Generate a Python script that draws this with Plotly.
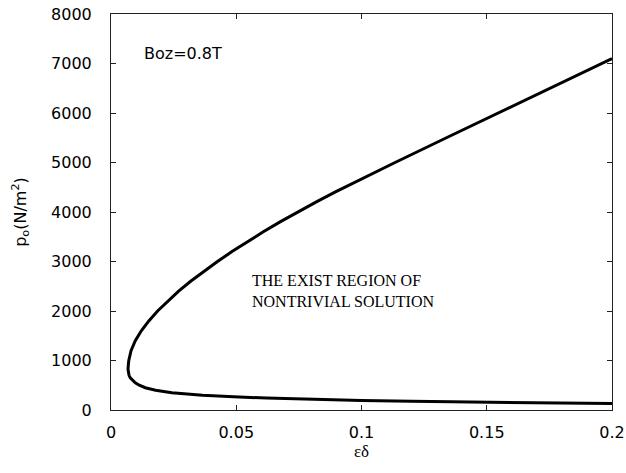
import plotly.graph_objects as go

# Lower branch (from right end to the turning point)
lower_x = [0.2, 0.175, 0.15, 0.12, 0.1, 0.08, 0.062, 0.049, 0.0365, 0.0243, 0.0178, 0.0137, 0.0113, 0.0097, 0.0085, 0.0077, 0.0072, 0.0069, 0.0068]
lower_y = [130, 140, 155, 175, 190, 210, 240, 270, 300, 350, 400, 450, 500, 550, 600, 650, 700, 760, 820]
# Upper branch (from the turning point to the right end)
upper_x = [0.0069, 0.0071, 0.0080, 0.0097, 0.0121, 0.0151, 0.0186, 0.0226, 0.0270, 0.0318, 0.0370, 0.0425, 0.0483,
           0.0544, 0.0608, 0.0675, 0.0745, 0.0818, 0.0894, 0.0972, 0.1052, 0.1134, 0.1339, 0.1544, 0.1749, 0.2]
upper_y = [900, 1000, 1200, 1400, 1600, 1800, 2000, 2200, 2400, 2600, 2800, 3000, 3200,
           3400, 3600, 3800, 4000, 4200, 4400, 4600, 4800, 5000, 5500, 6000, 6500, 7100]

x_ticks = [0, 0.05, 0.1, 0.15, 0.2]
x_tick_labels = ["0", "0.05", "0.1", "0.15", "0.2"]
y_ticks = [0, 1000, 2000, 3000, 4000, 5000, 6000, 7000, 8000]
y_tick_labels = [str(v) for v in y_ticks]

xs = lower_x + upper_x
ys = lower_y + upper_y

fig = go.Figure()
fig.add_trace(go.Scatter(x=xs, y=ys, mode="lines",
                         line=dict(color="black", width=3),
                         showlegend=False, hoverinfo="skip"))

axis_common = dict(showline=True, linecolor="#222", linewidth=1, mirror="ticks",
                   ticks="inside", ticklen=5, tickcolor="#222", tickwidth=1,
                   showgrid=False, zeroline=False, automargin=False,
                   tickfont=dict(family="DejaVu Sans", size=16, color="black"))

fig.update_xaxes(range=[0, 0.2], tickvals=x_ticks, ticktext=x_tick_labels, ticklabelstandoff=8,
                 title=dict(text="εδ", font=dict(family="Liberation Serif", size=17, color="black"), standoff=2),
                 **axis_common)
fig.update_yaxes(range=[0, 8000], tickvals=y_ticks, ticktext=y_tick_labels, ticklabelstandoff=15,
                 title=dict(text="p<sub>o</sub>(N/m<sup>2</sup>)", font=dict(family="DejaVu Sans", size=16, color="black"), standoff=20),
                 **axis_common)

fig.add_annotation(x=0.0124, y=7212, xref="x", yref="y", text="Boz=0.8T", showarrow=False,
                   xanchor="left", yanchor="middle",
                   font=dict(family="DejaVu Sans", size=16, color="black"))
fig.add_annotation(x=0.0556, y=2400, xref="x", yref="y",
                   text="THE EXIST REGION OF<br>NONTRIVIAL SOLUTION", showarrow=False,
                   xanchor="left", yanchor="middle", align="left",
                   font=dict(family="Liberation Serif", size=16, color="black"))

fig.update_layout(width=626, height=473, margin=dict(l=111, r=14, t=14, b=63),
                  plot_bgcolor="white", paper_bgcolor="white")

fig.write_html("out.html")
